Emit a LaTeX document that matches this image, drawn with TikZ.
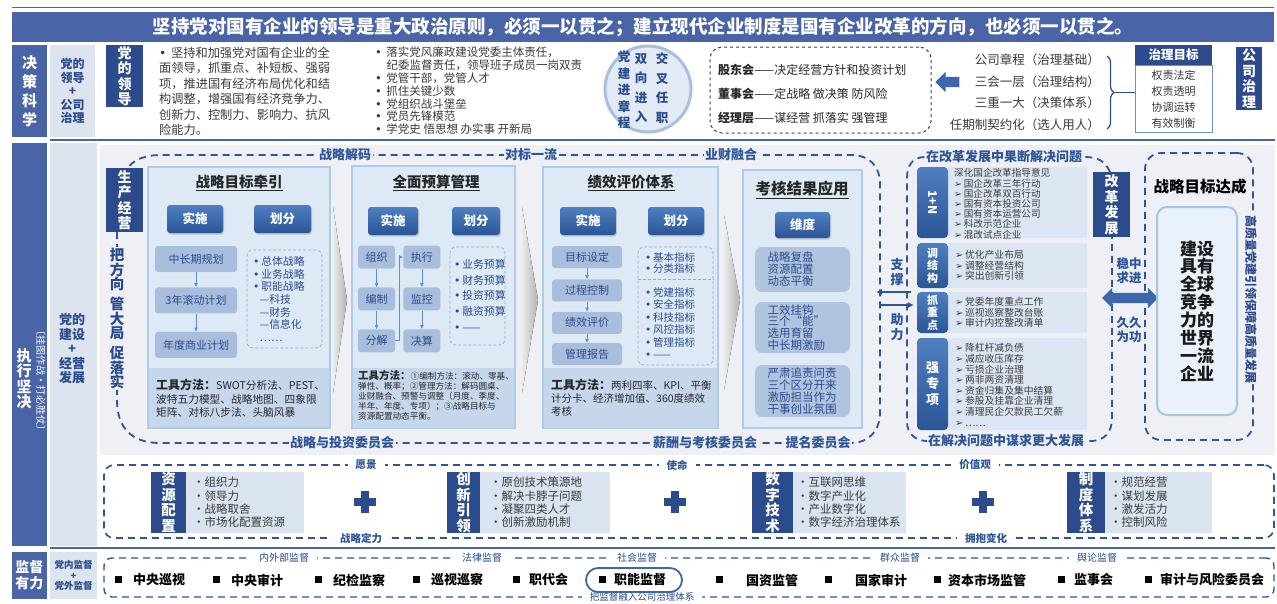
\documentclass[tikz,border=0pt]{standalone}
\usepackage{fontspec}
\setmainfont{Noto Sans CJK SC}
\newfontfamily\dejavu{DejaVu Sans}
\usepackage{tikz}
\usetikzlibrary{positioning}
\usetikzlibrary{fit}
\usetikzlibrary{arrows.meta}
\usetikzlibrary{shapes.arrows}
\usetikzlibrary{shadows}
\usetikzlibrary{decorations.pathreplacing}

\definecolor{colA}{HTML}{4A64A8}
\definecolor{navy}{HTML}{2B4B8C}
\definecolor{coltwo}{HTML}{DDE3EF}
\definecolor{panelbg}{HTML}{EEF0F5}
\definecolor{panelfill}{HTML}{DDEAF6}
\definecolor{panelline}{HTML}{AECBE8}
\definecolor{toolfill}{HTML}{C6D7EC}
\definecolor{btntop}{HTML}{4F7FC0}
\definecolor{btnbot}{HTML}{2A5596}
\definecolor{stepfill}{HTML}{A8BEDC}
\definecolor{dashblue}{HTML}{2E5597}
\definecolor{arrblue}{HTML}{5B8ED0}
\definecolor{listline}{HTML}{8FA9D3}
\definecolor{rowfill}{HTML}{DCE6F2}
\definecolor{lightbox}{HTML}{DAE3F0}
\definecolor{txtgray}{HTML}{3A3A3A}
\definecolor{circfill}{HTML}{E2EAF5}
\definecolor{circline}{HTML}{A9BFE0}
\definecolor{arrdark}{HTML}{3E66AD}
\definecolor{goalfill}{HTML}{E9F1FB}
\definecolor{goalline}{HTML}{A7C4E5}
\definecolor{headline}{HTML}{6F8FC5}
\definecolor{resultfill}{HTML}{B0C4DF}

\newcommand{\rbul}{{\dejavu ➢}\,}
\newcommand{\lbul}{{\dejavu •}\,}

\begin{document}
\begin{tikzpicture}[
    x=1pt, y=-1pt,
    colbox/.style={fill=colA, text=white, align=center, inner sep=0, font={\bfseries\fontsize{15}{19}\selectfont}},
    subbox/.style={fill=coltwo, text=navy, align=center, inner sep=0, font={\bfseries\fontsize{12}{13.5}\selectfont}},
    darkbox/.style={fill=navy, text=white, align=center, inner sep=0, font={\bfseries\fontsize{14}{15.5}\selectfont}},
    panelbox/.style={draw=panelline, fill=panelfill, line width=1.2pt, inner sep=0},
    toolband/.style={fill=toolfill, inner sep=0},
    paneltitle/.style={text=black!85, font={\bfseries\fontsize{14.5}{16}\selectfont}},
    btnbox/.style={rounded corners=3pt, top color=btntop, bottom color=btnbot, text=white, inner sep=0, minimum height=28pt, font={\bfseries\fontsize{12.5}{14}\selectfont}, drop shadow={opacity=0.35, shadow xshift=1pt, shadow yshift=-1.5pt}},
    stepbox/.style={rounded corners=3pt, fill=stepfill, text=navy, inner sep=0, font={\fontsize{11}{12}\selectfont}},
    listbox/.style={draw=listline, densely dashed, rounded corners=6pt, line width=0.7pt, inner sep=0},
    listtext/.style={anchor=north west, align=left, inner sep=0, text=navy},
    tooltext/.style={anchor=north west, align=left, inner sep=0, text=black!85},
    flowpath/.style={draw=dashblue, line width=1.8pt, dash pattern=on 7pt off 5pt},
    flowlabel/.style={fill=panelbg, text=dashblue, inner sep=1.5pt, font={\bfseries\fontsize{13}{14}\selectfont}},
    stepline/.style={-{Latex[length=4pt,width=4pt]}, draw=arrblue, line width=0.8pt},
    rowbox/.style={rounded corners=4pt, top color=btntop, bottom color=btnbot, text=white, align=center, inner sep=0, font={\bfseries\fontsize{11}{12.5}\selectfont}},
    rowfillbox/.style={fill=rowfill, inner sep=0},
    rowtext/.style={anchor=north west, align=left, inner sep=0, text=txtgray, font={\fontsize{9.6}{10.2}\selectfont}},
    cultdark/.style={fill=navy, text=white, align=center, inner sep=0, minimum height=61pt, font={\bfseries\fontsize{14.5}{15.5}\selectfont}},
    cultlight/.style={fill=lightbox, inner sep=0, minimum height=61pt},
    culttext/.style={anchor=north west, align=left, inner sep=0, text=txtgray, font={\fontsize{11.5}{13.3}\selectfont}},
    framelabel/.style={fill=white, text=navy, inner xsep=8pt, inner ysep=1pt, font={\fontsize{10}{11}\selectfont}},
    superitem/.style={anchor=west, inner sep=0, text=black, font={\bfseries\fontsize{13}{14}\selectfont}}
    ]
    \useasboundingbox (0,0) rectangle (1277,603);

    %Banner
    \draw[colA, line width=1pt] (12,7) -- (1274,7);
    \node[fill=colA, minimum width=1262pt, minimum height=30pt, inner sep=0, text=white, font={\bfseries\fontsize{18.5}{20}\selectfont}] (banner) at (643,27) {坚持党对国有企业的领导是重大政治原则，必须一以贯之；建立现代企业制度是国有企业改革的方向，也必须一以贯之。};

    %Row 1
    \node[colbox, minimum width=35pt, minimum height=92pt] (jcks) at (29.5,91) {决\\策\\科\\学};
    \node[subbox, minimum width=45pt, minimum height=92pt] (dlgs) at (72.5,91) {党的\\领导\\+\\公司\\治理};
    \node[darkbox, minimum width=37pt, minimum height=62pt] (dlbox) at (124.5,76) {党\\的\\领\\导};

    \node[anchor=north west, align=left, inner sep=0, text=txtgray, font={\fontsize{12.2}{15.4}\selectfont}] (lead1) at (159,47) {\lbul\ 坚持和加强党对国有企业的全\\面领导，抓重点、补短板、强弱\\项，推进国有经济布局优化和结\\构调整，增强国有经济竞争力、\\创新力、控制力、影响力、抗风\\险能力。};
    \node[anchor=north west, align=left, inner sep=0, text=txtgray, font={\fontsize{11.5}{12.8}\selectfont}] (lead2) at (375,47) {\lbul\ 落实党风廉政建设党委主体责任，\\\hspace*{1em}纪委监督责任，领导班子成员一岗双责\\\lbul\ 党管干部，党管人才\\\lbul\ 抓住关键少数\\\lbul\ 党组织战斗堡垒\\\lbul\ 党员先锋模范\\\lbul\ 学党史 悟思想 办实事 开新局};

    \node[circle, minimum size=86pt, fill=circfill, draw=circline, line width=3pt, inner sep=0] (djc) at (648,89) {};
    \node[text=navy, align=center, inner sep=0, font={\bfseries\fontsize{12.5}{16.5}\selectfont}] (djzc) at (624,90) {党\\建\\进\\章\\程};
    \node[text=navy, align=center, inner sep=0, font={\bfseries\fontsize{12.5}{19.5}\selectfont}] (sxjr) at (641,88) {双\\向\\进\\入};
    \node[text=navy, align=center, inner sep=0, font={\bfseries\fontsize{12.5}{19.5}\selectfont}] (jcrz) at (662,88) {交\\叉\\任\\职};

    \node[draw=black!75, dashed, rounded corners=12pt, line width=1pt, minimum width=221pt, minimum height=86pt, inner sep=0] (govbox) at (820.5,90) {};
    \node[anchor=west, inner sep=0, text=black!85, font={\fontsize{12}{13}\selectfont}] (gdh) at (718,70) {\textbf{股东会}——决定经营方针和投资计划};
    \node[anchor=west, inner sep=0, text=black!85, font={\fontsize{12}{13}\selectfont}] (dsh) at (718,94) {\textbf{董事会}——定战略 做决策 防风险};
    \node[anchor=west, inner sep=0, text=black!85, font={\fontsize{12}{13}\selectfont}] (jlc) at (718,118) {\textbf{经理层}——谋经营 抓落实 强管理};

    \node[single arrow, shape border rotate=180, fill=arrdark, minimum height=24pt, inner sep=5pt, single arrow head extend=5pt] (garrow) at (950,82) {};

    \node[anchor=east, inner sep=0, text=txtgray, font={\fontsize{12.5}{14}\selectfont}] (rule1) at (1100,60) {公司章程（治理基础）};
    \node[anchor=east, inner sep=0, text=txtgray, font={\fontsize{12.5}{14}\selectfont}] (rule2) at (1100,82) {三会一层（治理结构）};
    \node[anchor=east, inner sep=0, text=txtgray, font={\fontsize{12.5}{14}\selectfont}] (rule3) at (1100,103) {三重一大（决策体系）};
    \node[anchor=east, inner sep=0, text=txtgray, font={\fontsize{12.5}{14}\selectfont}] (rule4) at (1100,125) {任期制契约化（选人用人）};

    \draw[decorate, decoration={brace, amplitude=7pt}, line width=1.2pt, navy] (1107,56) -- (1107,129);
    \coordinate (bracetip) at (1115,92.5);

    \node[fill=navy, text=white, minimum width=77pt, minimum height=20pt, inner sep=0, font={\bfseries\fontsize{12.5}{14}\selectfont}] (goalhead) at (1173.5,55) {治理目标};
    \node[draw=headline, line width=1pt, minimum width=77pt, minimum height=67pt, anchor=north, align=center, inner sep=0, text=txtgray, font={\fontsize{11}{16}\selectfont}] (goalbody) at (goalhead.south) {权责法定\\权责透明\\协调运转\\有效制衡};
    \draw[navy, line width=1.2pt] (bracetip) -- (bracetip -| goalbody.west);

    \node[darkbox, minimum width=26pt, minimum height=63pt] (gszl) at (1249,78.5) {公\\司\\治\\理};

    \draw[colA, line width=1.5pt] (50,140) -- (1275,140);

    %Row 2
    \node[colbox, minimum width=35pt, minimum height=403pt] (zxjj) at (29.5,344.5) {};
    \node[text=white, align=center, inner sep=0, font={\bfseries\fontsize{15}{15.5}\selectfont}] (zxjjtext) at (24,379) {执\\行\\坚\\决};
    \node[text=white, rotate=-90, inner sep=0, font={\fontsize{10}{11}\selectfont}] (gtzz) at (41,380) {〔挂图作战·打必胜仗〕};
    \node[subbox, minimum width=47pt, minimum height=403pt] (djjy) at (73.5,344.5) {};
    \node[text=navy, align=center, inner sep=0, font={\bfseries\fontsize{13}{14.5}\selectfont}] (djjytext) at (72,349) {党的\\建设\\+\\经营\\发展};

    \node[fill=panelbg, minimum width=1175pt, minimum height=310pt, inner sep=0] (midpanel) at (687.5,300) {};

    %Dashed frames
    \draw[flowpath] (117,232) -- (117,400) .. controls (117,428) and (132,443) .. (160,443) -- (850,443) .. controls (870,443) and (880,430) .. (880,412) -- (880,185) .. controls (880,166) and (870,155) .. (850,155) -- (160,155) .. controls (145,155) and (133,160) .. (128,168);
    \draw[flowpath] (1110,172) .. controls (1105,161) and (1098,157) .. (1085,157) -- (925,157) .. controls (913,157) and (907,165) .. (907,178) -- (907,422) .. controls (907,433) and (915,441) .. (927,441) -- (1090,441) .. controls (1105,441) and (1112,432) .. (1112,418) -- (1112,237);
    \node[draw=dashblue, line width=1.8pt, dash pattern=on 7pt off 5pt, rounded corners=16pt, minimum width=108pt, minimum height=287pt, inner sep=0] (goalframe) at (1199,296.5) {};

    \node[flowlabel] (zljm) at (345,155) {战略解码};
    \node[flowlabel] (dbyl) at (531,155) {对标一流};
    \node[flowlabel] (ycrh) at (731,155) {业财融合};
    \node[flowlabel] (zltz) at (342,443) {战略与投资委员会};
    \node[flowlabel] (xckh) at (705,443) {薪酬与考核委员会};
    \node[flowlabel] (tmwy) at (818,443) {提名委员会};
    \node[flowlabel] (ggjj) at (1004,157) {在改革发展中果断解决问题};
    \node[flowlabel] (jjwt) at (1006,441) {在解决问题中谋求更大发展};

    \node[darkbox, minimum width=37pt, minimum height=64pt] (scjy) at (124.5,200) {生\\产\\经\\营};
    \node[fill=panelbg, text=navy, align=center, inner sep=1pt, font={\bfseries\fontsize{14.5}{14.5}\selectfont}] (bfx) at (117,318.5) {把\\方\\向\\[5.5pt]管\\大\\局\\[5.5pt]促\\落\\实};

    %Panel 1
    \node[panelbox, minimum width=182pt, minimum height=261pt] (p1) at (239,297.5) {};
    \node[toolband, minimum width=180pt, minimum height=59pt] (p1tool) at (239,397.5) {};
    \node[paneltitle] (p1title) at (239,183) {\underline{战略目标牵引}};
    \node[btnbox, minimum width=56pt] (p1ss) at (195,219) {实施};
    \node[btnbox, minimum width=57pt] (p1hf) at (282.5,219) {划分};
    \node[stepbox, minimum width=82pt, minimum height=26pt] (zcq) at (196,259) {中长期规划};
    \node[stepbox, minimum width=82pt, minimum height=26pt] (gdjh) [below=15pt of zcq] {3年滚动计划};
    \node[stepbox, minimum width=82pt, minimum height=26pt] (ndjh) [below=18pt of gdjh] {年度商业计划};
    \node[listbox, minimum width=75pt, minimum height=98pt] (p1box) at (284.5,299) {};
    \node[listtext, font={\fontsize{10.8}{12.7}\selectfont}] (p1list) at (253,256) {\lbul 总体战略\\\lbul 业务战略\\\lbul 职能战略\\\hspace*{0.6em}—科技\\\hspace*{0.6em}—财务\\\hspace*{0.6em}—信息化\\\hspace*{0.6em}……};
    \node[tooltext, font={\fontsize{10.7}{13.5}\selectfont}] (p1tools) at (156,379) {\textbf{\fontsize{12}{13.5}\selectfont 工具方法：}SWOT分析法、PEST、\\波特五力模型、战略地图、四象限\\矩阵、对标八步法、头脑风暴};

    %Panel 2
    \node[panelbox, minimum width=163pt, minimum height=262pt] (p2) at (433.5,297) {};
    \node[toolband, minimum width=161pt, minimum height=60pt] (p2tool) at (433.5,397.5) {};
    \node[paneltitle] (p2title) at (436,183) {\underline{全面预算管理}};
    \node[btnbox, minimum width=50pt] (p2ss) at (393,221) {实施};
    \node[btnbox, minimum width=48pt] (p2hf) at (476,221) {划分};
    \node[stepbox, minimum width=37pt, minimum height=23pt] (zz) at (376.5,257) {组织};
    \node[stepbox, minimum width=37pt, minimum height=23pt] (bz) [below=18.5pt of zz] {编制};
    \node[stepbox, minimum width=37pt, minimum height=23pt] (fj) [below=18.5pt of bz] {分解};
    \node[stepbox, minimum width=37pt, minimum height=23pt] (zx) [right=8pt of zz] {执行};
    \node[stepbox, minimum width=37pt, minimum height=23pt] (jk) [below=18.5pt of zx] {监控};
    \node[stepbox, minimum width=37pt, minimum height=23pt] (js) [below=18.5pt of jk] {决算};
    \node[listbox, minimum width=55pt, minimum height=98pt] (p2box) at (477.5,296) {};
    \node[listtext, font={\fontsize{10.8}{15.7}\selectfont}] (p2list) at (454,259) {\lbul 业务预算\\\lbul 财务预算\\\lbul 投资预算\\\lbul 融资预算\\\lbul ——};
    \node[tooltext, font={\fontsize{8.6}{10}\selectfont}] (p2tools) at (358,370) {\textbf{\fontsize{10.5}{10}\selectfont 工具方法：}①编制方法：滚动、零基、\\弹性、概率；②管理方法：解码圆桌、\\业财融合、预警与调整（月度、季度、\\半年、年度、专项）；③战略目标与\\资源配置动态平衡。};

    %Panel 3
    \node[panelbox, minimum width=175pt, minimum height=261pt] (p3) at (630.5,297.5) {};
    \node[toolband, minimum width=173pt, minimum height=60pt] (p3tool) at (630.5,397.5) {};
    \node[paneltitle] (p3title) at (631,183) {\underline{绩效评价体系}};
    \node[btnbox, minimum width=56pt] (p3ss) at (588,221) {实施};
    \node[btnbox, minimum width=56pt] (p3hf) at (676,221) {划分};
    \node[stepbox, minimum width=70pt, minimum height=22pt] (mbsd) at (587,257) {目标设定};
    \node[stepbox, minimum width=70pt, minimum height=22pt] (gckz) [below=11pt of mbsd] {过程控制};
    \node[stepbox, minimum width=70pt, minimum height=22pt] (jxpj) [below=10pt of gckz] {绩效评价};
    \node[stepbox, minimum width=70pt, minimum height=22pt] (glbg) [below=9pt of jxpj] {管理报告};
    \node[listbox, minimum width=75pt, minimum height=118pt] (p3box) at (675.5,306) {};
    \draw[listline, densely dashed, line width=0.7pt] (p3box.west |- 0,279) -- (p3box.east |- 0,279);
    \node[listtext, font={\fontsize{10.5}{11.5}\selectfont}] (p3lista) at (645,252) {\lbul 基本指标\\\lbul 分类指标};
    \node[listtext, font={\fontsize{10.5}{12.5}\selectfont}] (p3listb) at (645,287) {\lbul 党建指标\\\lbul 安全指标\\\lbul 科技指标\\\lbul 风控指标\\\lbul 管理指标\\\lbul ——};
    \node[tooltext, font={\fontsize{10.5}{13}\selectfont}] (p3tools) at (551,379) {\textbf{\fontsize{12}{13}\selectfont 工具方法：}两利四率、KPI、平衡\\计分卡、经济增加值、360度绩效\\考核};

    %Panel 4
    \node[panelbox, minimum width=119pt, minimum height=258pt] (p4) at (802.5,299) {};
    \node[paneltitle, font={\bfseries\fontsize{15.5}{17}\selectfont}] (p4title) at (802,190) {\underline{考核结果应用}};
    \node[btnbox, minimum width=55pt, minimum height=26pt] (p4wd) at (802.5,225) {维度};
    \node[rounded corners=7pt, fill=resultfill, text=navy, minimum width=95pt, minimum height=45pt, text width=70pt, align=left, inner sep=0, font={\fontsize{11.5}{12}\selectfont}] (jga) at (802.5,269.5) {战略复盘\\资源配置\\动态平衡};
    \node[rounded corners=7pt, fill=resultfill, text=navy, minimum width=95pt, minimum height=51pt, text width=70pt, align=left, inner sep=0, font={\fontsize{11.5}{11.8}\selectfont}] (jgb) at (802.5,327.5) {工效挂钩\\三个“能”\\选用育留\\中长期激励};
    \node[rounded corners=7pt, fill=resultfill, text=navy, minimum width=95pt, minimum height=52pt, text width=70pt, align=left, inner sep=0, font={\fontsize{11.5}{11.8}\selectfont}] (jgc) at (802.5,391) {严肃追责问责\\三个区分开来\\激励担当作为\\干事创业氛围};

    %Chevrons
    \fill[left color=gray!15, right color=gray!60] (333,207) -- (347,300) -- (333,393) -- cycle;
    \fill[left color=gray!15, right color=gray!60] (522,207) -- (538,300) -- (522,393) -- cycle;
    \fill[left color=gray!15, right color=gray!60] (724,215) -- (740,300) -- (724,390) -- cycle;

    %Lines
    \draw[stepline] (zcq) -- (gdjh);
    \draw[stepline] (gdjh) -- (ndjh);
    \draw[stepline] (zz) -- (bz);
    \draw[stepline] (bz) -- (fj);
    \draw[stepline] (zx) -- (jk);
    \draw[stepline] (jk) -- (js);
    \draw[stepline] (fj.east) -- ++(4,0) |- (zx.west);
    \draw[stepline] (mbsd) -- (gckz);
    \draw[stepline] (gckz) -- (jxpj);
    \draw[stepline] (jxpj) -- (glbg);

    %Support
    \node[text=dashblue, align=center, inner sep=0, font={\bfseries\fontsize{13}{15}\selectfont}] (zc) at (897,272) {支\\撑};
    \node[text=dashblue, align=center, inner sep=0, font={\bfseries\fontsize{13}{15}\selectfont}] (zl) at (897,327) {助\\力};
    \coordinate (supR) at (911,292);
    \coordinate (supL) at (876,292);
    \coordinate (aidL) at (879,305);
    \coordinate (aidR) at (914,305);
    \draw[dashblue, line width=1.6pt, -{Latex[length=6pt,width=6pt]}] (supR) -- (supL);
    \draw[dashblue, line width=1.6pt, -{Latex[length=6pt,width=6pt]}] (aidL) -- (aidR);

    %Reform rows
    \node[rowfillbox, minimum width=139pt, minimum height=71pt] (r1f) at (1017.5,202.5) {};
    \node[rowfillbox, minimum width=139pt, minimum height=45pt] (r2f) at (1017.5,265.5) {};
    \node[rowfillbox, minimum width=139pt, minimum height=41pt] (r3f) at (1017.5,312.5) {};
    \node[rowfillbox, minimum width=139pt, minimum height=92pt] (r4f) at (1017.5,384) {};
    \node[rowbox, minimum width=31pt, minimum height=71pt] (r1) at (932.5,202.5) {};
    \node[text=white, rotate=-90, inner sep=0, font={\bfseries\fontsize{12}{13}\selectfont}] (r1t) at (r1) {1+N};
    \node[rowbox, minimum width=31pt, minimum height=45pt] (r2) at (932.5,265.5) {调\\结\\构};
    \node[rowbox, minimum width=31pt, minimum height=41pt] (r3) at (932.5,312.5) {抓\\重\\点};
    \node[rowbox, minimum width=31pt, minimum height=92pt, font={\bfseries\fontsize{13}{16}\selectfont}] (r4) at (932.5,384) {强\\专\\项};
    \node[rowtext] (r1list) at (954,168.5) {深化国企改革指导意见\\\rbul 国企改革三年行动\\\rbul 国企改革双百行动\\\rbul 国有资本投资公司\\\rbul 国有资本运营公司\\\rbul 科改示范企业\\\rbul 混改试点企业};
    \node[rowtext, font={\fontsize{9.8}{10.5}\selectfont}] (r2list) at (955,250.5) {\rbul 优化产业布局\\\rbul 调整经营结构\\\rbul 突出创新引领};
    \node[rowtext, font={\fontsize{9.8}{10.5}\selectfont}] (r3list) at (955,297.5) {\rbul 党委年度重点工作\\\rbul 巡视巡察整改台账\\\rbul 审计内控整改清单};
    \node[rowtext, font={\fontsize{9.8}{10.6}\selectfont}] (r4list) at (955,343.5) {\rbul 降杠杆减负债\\\rbul 减应收压库存\\\rbul 亏损企业治理\\\rbul 两非两资清理\\\rbul 资金归集及集中结算\\\rbul 参股及挂靠企业清理\\\rbul 清理民企欠款民工欠薪\\\rbul ……};

    \node[darkbox, minimum width=37pt, minimum height=65pt] (ggfz) at (1111.5,204.5) {改\\革\\发\\展};
    \node[text=dashblue, align=center, inner sep=0, font={\bfseries\fontsize{12.5}{14}\selectfont}] (wzqj) at (1129,271) {稳中\\求进};
    \node[double arrow, fill=arrdark, minimum height=56pt, inner sep=5pt, double arrow head extend=5pt] (darrow) at (1130,298) {};
    \node[text=dashblue, align=center, inner sep=0, font={\bfseries\fontsize{12.5}{14}\selectfont}] (jjwg) at (1129,330) {久久\\为功};

    %Goal
    \node[text=black, inner sep=0, font={\bfseries\fontsize{15.5}{17}\selectfont}] (zlmb) at (1200,187) {战略目标达成};
    \node[rounded corners=10pt, fill=goalfill, draw=goalline, line width=2pt, minimum width=80pt, minimum height=208pt, align=center, inner sep=0, text=black!90, font={\bfseries\fontsize{17}{17.9}\selectfont}] (sjyl) at (1197,311) {建设\\具有\\全球\\竞争\\力的\\世界\\一流\\企业};
    \node[fill=panelbg, text=navy, rotate=-90, inner sep=1pt, font={\bfseries\fontsize{12}{13}\selectfont}] (gzl) at (1251,299) {高质量党建引领保障高质量发展};

    %Culture row
    \node[draw=dashblue, line width=1.6pt, dash pattern=on 7pt off 5pt, rounded corners=10pt, minimum width=1170pt, minimum height=73pt, inner sep=0] (culture) at (689,501.5) {};
    \node[framelabel, fill=white, text=dashblue, font={\bfseries\fontsize{10.5}{12}\selectfont}] (yj) at (366,465) {愿景};
    \node[framelabel, fill=white, text=dashblue, font={\bfseries\fontsize{10.5}{12}\selectfont}] (sm) at (677,465) {使命};
    \node[framelabel, fill=white, text=dashblue, font={\bfseries\fontsize{10.5}{12}\selectfont}] (jzg) at (975,465) {价值观};
    \node[framelabel, fill=white, text=dashblue, font={\bfseries\fontsize{10.5}{12}\selectfont}] (zldl) at (361,538) {战略定力};
    \node[framelabel, fill=white, text=dashblue, font={\bfseries\fontsize{10.5}{12}\selectfont}] (ybbh) at (986,538) {拥抱变化};

    \node[cultlight, minimum width=118pt] (zypzf) at (245,502.5) {};
    \node[cultdark, minimum width=35pt] (zypz) at (168.5,502.5) {资\\源\\配\\置};
    \node[culttext] (zypzt) at (193,477) {·组织力\\·领导力\\·战略取舍\\·市场化配置资源};
    \node[cultlight, minimum width=130pt] (cxylf) at (545,502.5) {};
    \node[cultdark, minimum width=33pt] (cxyl) at (463.5,502.5) {创\\新\\引\\领};
    \node[culttext] (cxylt) at (490,477) {·原创技术策源地\\·解决卡脖子问题\\·凝聚四类人才\\·创新激励机制};
    \node[cultlight, minimum width=113pt] (szjsf) at (849.5,502.5) {};
    \node[cultdark, minimum width=41pt] (szjs) at (772.5,502.5) {数\\字\\技\\术};
    \node[culttext] (szjst) at (797,477) {·互联网思维\\·数字产业化\\·产业数字化\\·数字经济治理体系};
    \node[cultlight, minimum width=107pt] (zdtxf) at (1158.5,502.5) {};
    \node[cultdark, minimum width=38pt] (zdtx) at (1086,502.5) {制\\度\\体\\系};
    \node[culttext] (zdtxt) at (1110,477) {·规范经营\\·谋划发展\\·激发活力\\·控制风险};

    \fill[navy] (354,498) rectangle (376,506);
    \fill[navy] (361,491) rectangle (369,513);
    \fill[navy] (664,498) rectangle (686,506);
    \fill[navy] (671,491) rectangle (679,513);
    \fill[navy] (972,498) rectangle (994,506);
    \fill[navy] (979,491) rectangle (987,513);

    \draw[colA, line width=2pt] (50,548) -- (1275,548);

    %Row 3
    \node[colbox, minimum width=35pt, minimum height=47pt, font={\bfseries\fontsize{14}{16}\selectfont}] (jdyl) at (29.5,575.5) {监督\\有力};
    \node[subbox, minimum width=47pt, minimum height=47pt, font={\bfseries\fontsize{9.5}{10.5}\selectfont}] (dnjd) at (73.5,575.5) {党内监督\\+\\党外监督};
    \node[draw=dashblue, line width=1.4pt, dash pattern=on 7pt off 5pt, rounded corners=8pt, minimum width=1170pt, minimum height=39pt, inner sep=0] (superframe) at (689,577.5) {};
    \node[framelabel] (nwb) at (284,558) {内外部监督};
    \node[framelabel] (fljd) at (482,558) {法律监督};
    \node[framelabel] (shjd) at (637,558) {社会监督};
    \node[framelabel] (qzjd) at (900,558) {群众监督};
    \node[framelabel] (ylj) at (1097,558) {舆论监督};
    \node[framelabel, font={\fontsize{9.5}{10.5}\selectfont}] (brgs) at (642,596.5) {把监督融入公司治理体系};

    \node[draw=arrdark, line width=1.8pt, rounded corners=12pt, minimum width=96pt, minimum height=24pt, inner sep=0] (znring) at (634,580) {};
    \node[superitem] (s1) at (115,580) {\raisebox{2pt}{\rule{7pt}{7pt}}\hspace{11pt}中央巡视};
    \node[superitem] (s2) at (213,580) {\raisebox{2pt}{\rule{7pt}{7pt}}\hspace{11pt}中央审计};
    \node[superitem] (s3) at (315,580) {\raisebox{2pt}{\rule{7pt}{7pt}}\hspace{11pt}纪检监察};
    \node[superitem] (s4) at (413,580) {\raisebox{2pt}{\rule{7pt}{7pt}}\hspace{11pt}巡视巡察};
    \node[superitem] (s5) at (513,580) {\raisebox{2pt}{\rule{7pt}{7pt}}\hspace{9pt}职代会};
    \node[superitem] (s6) at (599,580) {\raisebox{2pt}{\rule{7pt}{7pt}}\hspace{8pt}职能监督};
    \node[superitem] (s7) at (716,580) {\raisebox{2pt}{\rule{7pt}{7pt}}\hspace{23pt}国资监管};
    \node[superitem] (s8) at (825,580) {\raisebox{2pt}{\rule{7pt}{7pt}}\hspace{23pt}国家审计};
    \node[superitem] (s9) at (934,580) {\raisebox{2pt}{\rule{7pt}{7pt}}\hspace{7pt}资本市场监管};
    \node[superitem] (s10) at (1058,580) {\raisebox{2pt}{\rule{7pt}{7pt}}\hspace{9pt}监事会};
    \node[superitem] (s11) at (1145,580) {\raisebox{2pt}{\rule{7pt}{7pt}}\hspace{8pt}审计与风险委员会};

\end{tikzpicture}
\end{document}
